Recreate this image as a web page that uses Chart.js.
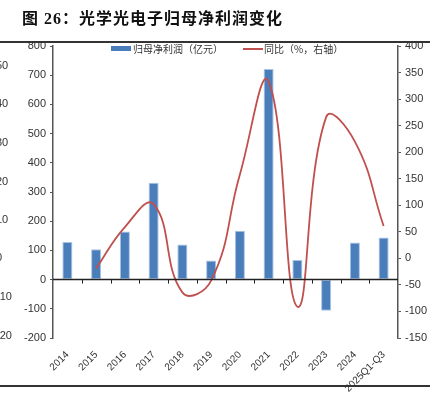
<!DOCTYPE html>
<html>
<head>
<meta charset="utf-8">
<script src="https://cdn.jsdelivr.net/npm/chart.js@4"></script>
<style>
  body { margin: 0; background: #fff; }
  #wrap { position: relative; width: 446px; height: 398px; overflow: hidden; font-family: "Noto Sans CJK SC", sans-serif; }
  #myChart { position: absolute; left: 0; top: 0; }
  .title { position: absolute; left: 22px; top: 5px; font-size: 16px; font-weight: bold; color: #111; letter-spacing: 1px; font-family: "Liberation Serif", "Noto Sans CJK SC", serif; white-space: nowrap; }
  .hline { position: absolute; left: 0; width: 430px; height: 1.5px; background: #333; }
  .leg { position: absolute; top: 41px; font-size: 10px; color: #333; white-space: nowrap; }
  .sw { position: absolute; }
  .cut { position: absolute; left: -4px; font-size: 11px; color: #333; font-family: "Liberation Sans", Arial, sans-serif; }
</style>
</head>
<body>
<div id="wrap">
  <canvas id="myChart" width="446" height="398"></canvas>
  <div class="title">图 26：光学光电子归母净利润变化</div>
  <div class="hline" style="top:41px"></div>
  <div class="hline" style="top:385px"></div>
  <div class="sw" style="left:111px; top:46px; width:20px; height:5px; background:#4a7ebb"></div>
  <div class="leg" style="left:133px">归母净利润（亿元）</div>
  <div class="sw" style="left:243px; top:48px; width:20px; height:2px; background:#c0504d"></div>
  <div class="leg" style="left:264px">同比（%，右轴）</div>
  <!-- eixo cortado de outro gráfico na borda esquerda -->
  <div class="cut" style="top:59px">50</div>
  <div class="cut" style="top:97px">40</div>
  <div class="cut" style="top:136px">30</div>
  <div class="cut" style="top:175px">20</div>
  <div class="cut" style="top:213px">10</div>
  <div class="cut" style="top:251px">0</div>
  <div class="cut" style="top:290px">-10</div>
  <div class="cut" style="top:329px">-20</div>
</div>
<script>
// dados
const anos = ['2014', '2015', '2016', '2017', '2018', '2019', '2020', '2021', '2022', '2023', '2024', '2025Q1-Q3'];
const lucro = [129, 104, 165, 332, 120, 65, 167, 721, 67, -107, 127, 144]; // 亿元
const yoy = [null, -19, 59, 102, -64, -42, 158, 333, -91, 266, 220, 61]; // %
const ticksEsq = { min: -200, max: 800, step: 100 };
const ticksDir = { min: -150, max: 400, step: 50 };

const corEixo = '#555';
const fonteTick = { family: 'Liberation Sans, Arial, sans-serif', size: 11 };

// linha do zero com os tracinhos entre categorias
const linhaZero = {
    id: 'linhaZero',
    afterDatasetsDraw(chart) {
        const { ctx, chartArea, scales } = chart;
        const y0 = scales.y.getPixelForValue(0);
        const n = anos.length;
        const passo = (chartArea.right - chartArea.left) / n;
        ctx.save();
        ctx.strokeStyle = '#222';
        ctx.lineWidth = 1.5;
        ctx.beginPath();
        ctx.moveTo(chartArea.left, y0);
        ctx.lineTo(chartArea.right, y0);
        ctx.stroke();
        ctx.lineWidth = 1;
        ctx.beginPath();
        for (let i = 1; i < n; i++) {
            const x = Math.round(chartArea.left + passo * i) + 0.5;
            ctx.moveTo(x, y0);
            ctx.lineTo(x, y0 + 4);
        }
        ctx.stroke();
        ctx.restore();
    }
};

const ctx = document.getElementById('myChart').getContext('2d');
const myChart = new Chart(ctx, {
    data: {
        labels: anos,
        datasets: [{
            type: 'line',
            label: '同比（%，右轴）',
            data: yoy,
            yAxisID: 'y1',
            borderColor: '#c0504d',
            borderWidth: 1.8,
            pointRadius: 0,
            tension: 0.45,
            fill: false,
            order: 0
        }, {
            type: 'bar',
            label: '归母净利润（亿元）',
            data: lucro,
            yAxisID: 'y',
            backgroundColor: '#4a7ebb',
            borderColor: '#a8c3e6',
            borderWidth: 1,
            borderSkipped: false,
            barPercentage: 0.7,
            categoryPercentage: 0.5,
            order: 1
        }]
    },
    options: {
        responsive: false,
        animation: false,
        plugins: {
            legend: { display: false },
            tooltip: { enabled: false }
        },
        layout: {
            padding: { top: 46, right: 0, bottom: 0, left: 0 }
        },
        scales: {
            x: {
                position: 'bottom',
                grid: { display: false },
                border: { display: false },
                ticks: {
                    autoSkip: false,
                    maxRotation: 45,
                    minRotation: 45,
                    padding: 3,
                    color: '#333',
                    font: { family: 'Liberation Sans, Arial, sans-serif', size: 10 }
                },
                afterFit(scale) { scale.height = 60; }
            },
            y: {
                position: 'left',
                min: ticksEsq.min,
                max: ticksEsq.max,
                ticks: {
                    stepSize: ticksEsq.step,
                    color: '#333',
                    font: fonteTick,
                    padding: 4
                },
                grid: { drawOnChartArea: false, drawTicks: true, tickLength: 3, color: corEixo },
                border: { display: true, color: corEixo, width: 1.5 },
                afterFit(scale) { scale.width = 53; }
            },
            y1: {
                position: 'right',
                min: ticksDir.min,
                max: ticksDir.max,
                ticks: {
                    stepSize: ticksDir.step,
                    color: '#333',
                    font: fonteTick,
                    padding: 4
                },
                grid: { drawOnChartArea: false, drawTicks: true, tickLength: 3, color: corEixo },
                border: { display: true, color: corEixo, width: 1.5 },
                afterFit(scale) { scale.width = 48; }
            }
        }
    },
    plugins: [linhaZero]
});
</script>
</body>
</html>
